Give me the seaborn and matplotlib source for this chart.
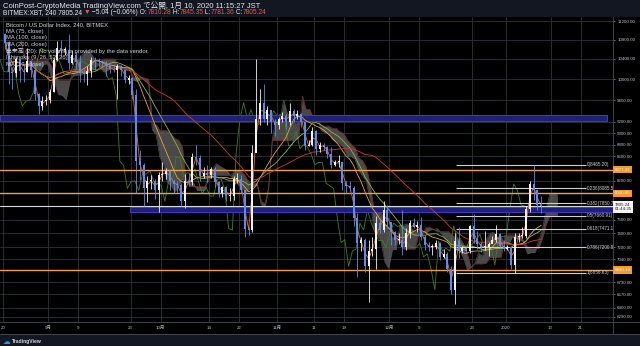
import numpy as np
import pandas as pd
import matplotlib
matplotlib.use('Agg')
import matplotlib.pyplot as plt
import matplotlib.dates as mdates
from matplotlib.patches import Rectangle
from matplotlib.lines import Line2D
from matplotlib.ticker import NullLocator
import seaborn as sns

# ---------------- data (daily OHLC) ----------------
start_date = '2019-08-20'
first_open = 10920
closes = [
    # Aug 20-31
    10760, 10130, 10120, 10400, 10150, 10140, 10360, 10180, 9720, 9490, 9580, 9600,
    # Sep
    9760, 10380, 10620, 10580, 10580, 10320, 10480, 10330, 10110, 10100,
    10150, 10380, 10360, 10350, 10310, 10250, 10200, 10180, 10260, 10170,
    9990, 10030, 9700, 8520, 8450, 8080, 8190, 8200, 8050, 8300,
    # Oct
    8310, 8360, 8200, 8150, 8130, 7880, 8200, 8180, 8590, 8580,
    8270, 8330, 8300, 8390, 8180, 8000, 8100, 7960, 7960, 8230,
    8230, 8050, 7470, 7450, 8650, 9250, 9550, 9250, 9420, 9200, 9150,
    # Nov
    9250, 9300, 9200, 9400, 9300, 9340, 9200, 8780, 8800, 9040,
    8730, 8800, 8760, 8640, 8460, 8500, 8500, 8160, 8120, 8080,
    7620, 7270, 7310, 6940, 7150, 7180, 7550, 7450, 7750, 7560,
    # Dec
    7420, 7300, 7300, 7200, 7400, 7550, 7500, 7520, 7350, 7230,
    7200, 7200, 7260, 7070, 7110, 6900, 6630, 7290, 7150, 7190,
    7150, 7510, 7320, 7250, 7200, 7200, 7250, 7310, 7390, 7220, 7180,
    # Jan 1-10
    7200, 6960, 7350, 7360, 7360, 7760, 8150, 8050, 7820, 7805.24,
]
highs = [
    10950, 10780, 10240, 10450, 10420, 10300, 10620, 10380, 10290, 9730, 9680, 9700,
    9800, 10420, 10780, 10800, 10650, 10920, 10580, 10550, 10480, 10200,
    10250, 10450, 10450, 10420, 10380, 10350, 10280, 10280, 10300, 10280,
    10170, 10090, 10040, 9800, 8700, 8490, 8280, 8300, 8230, 8340,
    8500, 8400, 8380, 8230, 8200, 8160, 8310, 8320, 8650, 8800,
    8620, 8420, 8450, 8430, 8420, 8200, 8120, 8110, 8080, 8280,
    8330, 8300, 8050, 7500, 8800, 10400, 9800, 9900, 9480, 9420, 9250,
    9280, 9380, 9350, 9550, 9430, 9420, 9360, 9220, 8880, 9100,
    9060, 8850, 8820, 8780, 8760, 8540, 8620, 8500, 8200, 8200,
    8110, 7700, 7350, 7330, 7300, 7350, 7650, 7620, 7880, 7820,
    7560, 7430, 7400, 7750, 7480, 7600, 7620, 7580, 7640, 7380,
    7280, 7250, 7300, 7280, 7180, 7140, 6940, 7400, 7500, 7220,
    7200, 7520, 7680, 7430, 7280, 7430, 7280, 7370, 7520, 7410, 7300,
    7240, 7220, 7400, 7400, 7500, 7800, 8200, 8465.20, 8050, 7960,
]
lows = [
    10600, 9900, 9800, 10050, 9950, 9950, 10130, 10050, 9600, 9350, 9420, 9500,
    9550, 9750, 10350, 10450, 10480, 10200, 10300, 10200, 9950, 9950,
    9880, 10050, 10180, 10250, 10260, 10060, 10120, 10130, 9620, 10070,
    9930, 9900, 9620, 8000, 8220, 7800, 7870, 8070, 7920, 7720,
    8200, 8230, 8050, 8000, 8020, 7800, 7780, 8120, 8130, 8450,
    8200, 8250, 8180, 8250, 8100, 7950, 7940, 7880, 7880, 7900,
    8170, 8000, 7350, 7380, 7420, 8950, 9150, 9200, 9150, 9000, 8950,
    9080, 9200, 9080, 9150, 9200, 9260, 9100, 8700, 8770, 8780,
    8620, 8680, 8700, 8570, 8400, 8440, 8430, 8060, 8000, 8040,
    7510, 6800, 7150, 6870, 6480, 7080, 6900, 7400, 7420, 7480,
    7230, 7230, 7250, 7100, 7170, 7330, 7480, 7420, 7300, 7170,
    7150, 7100, 7180, 7030, 7050, 6860, 6580, 6450, 7060, 7120,
    7120, 7130, 7270, 7180, 7140, 7160, 7080, 7270, 7280, 7200, 7150,
    7160, 6900, 6856.63, 7280, 7340, 7340, 7720, 7900, 7750, 7700,
]

# indicators (periods in 4H bars, as in the legend)
ma_periods = [13, 75, 100, 200]
ma_colors = ['#f2662b', '#e8a33a', '#8fb347', '#d23a2c']
ichimoku_periods = [9, 26, 52, 26]

# horizontal levels
orange_levels = [8377.33, 8000.00, 6890.19]
last_price = 7805.24
countdown = '01:44:35'
blue_zones = [(9210, 9315), (7715, 7790)]
fib_ratios = ['0', '0.236', '0.382', '0.5', '0.618', '0.786', '1']
fib_levels = [8465.20, 8085.58, 7850.73, 7660.91, 7471.10, 7200.86, 6856.63]

y_ticks = [11200, 10800, 10400, 10000, 9600, 9200, 9000, 8800, 8600, 8200, 8000,
           7800, 7600, 7400, 7200, 7040, 6730, 6570, 6400, 6290]
y_hidden = [8000, 7800]   # labels covered by the price boxes
x_tick_dates = ['2019-08-20', '2019-09-01', '2019-09-09', '2019-09-23', '2019-10-01',
                '2019-10-14', '2019-10-22', '2019-11-01', '2019-11-11', '2019-11-19',
                '2019-12-01', '2019-12-09', '2019-12-23', '2020-01-01', '2020-01-13',
                '2020-01-21']
x_tick_labels = ['20', '9月', '9', '23', '10月', '14', '22', '11月', '11', '19',
                 '12月', '9', '23', '2020', '13', '21']

legend_lines = ['Bitcoin / US Dollar Index, 240, BITMEX', 'MA (75, close)',
                'MA (100, close)', 'MA (200, close)',
                '出来高 (20): No volume is provided by the data vendor.',
                'Ichimoku (9, 26, 52, 26)', 'MA (13, close)']

# ---------------- figure ----------------
sns.set_theme(style='dark')
plt.rcParams['font.family'] = ['Liberation Sans', 'Noto Sans CJK JP', 'DejaVu Sans']
plt.rcParams['axes.unicode_minus'] = False

W, H = 640, 346
fig = plt.figure(figsize=(6.4, 3.46), dpi=100, facecolor='#131722')
def fx(x): return x / W
def fy(y): return 1 - y / H

fig.patches.append(Rectangle((0, fy(334)), 1, (334 - 17) / H, transform=fig.transFigure,
                             facecolor='black', edgecolor='none', zorder=-5))

ax = fig.add_axes([0, fy(322), 613 / W, (322 - 17) / H])
ax.set_zorder(2)
ax.set_facecolor('black')

n = len(closes)
dates = pd.date_range(start_date, periods=n, freq='D')
centers = dates + pd.Timedelta(hours=12)
xc = mdates.date2num(centers.to_pydatetime())
c = np.array(closes, float)
h = np.array(highs, float)
l = np.array(lows, float)
o = np.concatenate([[first_open], c[:-1]])

df = pd.DataFrame({'t': centers, 'close': c, 'high': h, 'low': l})

# Ichimoku (4H bars -> days)
bars_per_day = 6
def win(p):
    return max(1, int(round(p / bars_per_day)))
tk, kj, sb, disp = ichimoku_periods
hs, ls = df['high'], df['low']
tenkan = (hs.rolling(win(tk), min_periods=1).max() + ls.rolling(win(tk), min_periods=1).min()) / 2
kijun = (hs.rolling(win(kj), min_periods=1).max() + ls.rolling(win(kj), min_periods=1).min()) / 2
spanA = (tenkan + kijun) / 2
spanB = (hs.rolling(win(sb), min_periods=1).max() + ls.rolling(win(sb), min_periods=1).min()) / 2
shift = pd.Timedelta(hours=4 * disp)
cloud_t = centers + shift
ax.fill_between(cloud_t, spanA, spanB, color='#5c5c5c', alpha=0.8, lw=0, zorder=2)
sns.lineplot(x=cloud_t, y=spanB.values, ax=ax, color='#6e2626', lw=0.6, zorder=2)
sns.lineplot(x=cloud_t, y=spanA.values, ax=ax, color='#4e4e4e', lw=0.5, zorder=2)
# lagging span
sns.lineplot(x=centers - shift, y=c, ax=ax, color='#3f7f22', lw=0.6, zorder=3)

# moving averages
for p, col in zip(ma_periods, ma_colors):
    ma = df['close'].rolling(win(p), min_periods=1).mean()
    sns.lineplot(x=centers, y=ma.values, ax=ax, color=col, lw=0.6, zorder=4)

# horizontal zones / levels
for lo_, hi_ in blue_zones[:1]:
    ax.axhspan(lo_, hi_, xmin=0, xmax=607 / 613, facecolor='#20207a',
               edgecolor='#3a3ab8', lw=0.8, zorder=3)
for lo_, hi_ in blue_zones[1:]:
    ax.axhspan(lo_, hi_, xmin=130 / 613, xmax=1, facecolor='#20207a',
               edgecolor='#3a3ab8', lw=0.8, zorder=3)
for lv in orange_levels:
    ax.axhline(lv, color='#f0a04b', lw=1.0, zorder=3)
ax.axhline(last_price, color='#d8d8d8', lw=0.8, zorder=3)

# candles
up = c >= o
cols = np.where(up, '#f2f2f2', '#5b8def')
ax.vlines(xc, l, h, colors=cols, lw=0.6, zorder=6)
body_lo = np.minimum(o, c)
body_h = np.maximum(np.abs(c - o), body_lo * 0.002)
ax.bar(xc, body_h, bottom=body_lo, width=0.55, color=cols, lw=0, zorder=7)

# fibonacci
fib_t0 = mdates.date2num(pd.Timestamp('2019-12-18 17:00').to_pydatetime())
fib_t1 = mdates.date2num(pd.Timestamp('2020-01-22 08:00').to_pydatetime())
for r, lv in zip(fib_ratios, fib_levels):
    ax.hlines(lv, fib_t0, fib_t1, color='#cfcfcf', lw=0.8, zorder=5)
    ax.text(fib_t1 + 0.4, lv, f'{r}({lv:.2f})', color='#d0d0d0', fontsize=3.3,
            va='center', ha='left', zorder=8, clip_on=True)

# axes formatting
ax.set_yscale('log')
ax.set_ylim(6226, 11288)
ax.yaxis.tick_right()
ax.yaxis.set_minor_locator(NullLocator())
ax.set_yticks(y_ticks)
ax.set_yticklabels(['' if t in y_hidden else f'{t:.2f}' for t in y_ticks])
ax.set_xlim(mdates.date2num(pd.Timestamp('2019-08-19 04:48').to_pydatetime()),
            mdates.date2num(pd.Timestamp('2020-01-29 16:00').to_pydatetime()))
ax.set_xticks(mdates.date2num(pd.to_datetime(x_tick_dates).to_pydatetime()))
ax.set_xticklabels(x_tick_labels)
ax.tick_params(axis='both', labelsize=3.2, colors='#b8bcc6', length=1.5, width=0.4, pad=1.5)
ax.grid(True, color='#30333b', lw=0.6, zorder=0)
ax.set_axisbelow(True)
ax.set_xlabel('')
ax.set_ylabel('')
for s in ax.spines.values():
    s.set_visible(False)

# frame lines
for (x0, y0, x1, y1) in [(613, 17, 613, 334), (0, 322, 640, 322), (0, 334, 640, 334)]:
    fig.add_artist(Line2D([fx(x0), fx(x1)], [fy(y0), fy(y1)], color='#4a4d55', lw=0.6,
                          transform=fig.transFigure, zorder=3))

# right-axis boxes
for lv in orange_levels:
    ypix = ax.transData.transform((0, lv))[1]
    fig.text(fx(614.5), ypix / fig.bbox.height, f'{lv:.2f}', fontsize=3.2, color='#fff5e0',
             va='center', ha='left', zorder=10,
             bbox=dict(boxstyle='square,pad=0.35', fc='#f29b30', ec='none'))
fig.text(fx(614.5), fy(207), f'{last_price:.2f}\n{countdown}', fontsize=3.2, color='#222222',
         va='center', ha='left', linespacing=1.3, zorder=10,
         bbox=dict(boxstyle='square,pad=0.35', fc='#f4f4f4', ec='none'))

# legend text
for i, s in enumerate(legend_lines):
    fig.text(fx(6), fy(24.5 + i * 6.67), s, fontsize=4.2, color='#d1d4dc', va='center',
             ha='left', zorder=10)

# header
fig.text(fx(3), fy(6), 'CoinPost-CryptoMedia TradingView.com で公開, 1月 10, 2020 11:15:27 JST',
         fontsize=5.5, color='#e8e8e8', va='center', ha='left')
red = '#ef5350'
white = '#e8e8e8'
parts = [('BITMEX:XBT, 240 7805.24 ', white), ('▼', red),
         (' −5.04 (−0.06%) O:', white), ('7810.28', red), (' H:', white),
         ('7845.35', red), (' L:', white), ('7781.36', red),
         (' C:', white), ('7805.24', red)]
renderer = fig.canvas.get_renderer()
xcur = 3.0
for s, col in parts:
    t = fig.text(fx(xcur), fy(12.7), s, fontsize=4.75, color=col, va='center', ha='left',
                 family=['Liberation Sans', 'DejaVu Sans'])
    bb = t.get_window_extent(renderer=renderer)
    xcur += bb.width

# footer logo
fig.text(fx(3), fy(341), '☁', fontsize=5.5, color='#2196f3', va='center', ha='left',
         family=['DejaVu Sans'])
fig.text(fx(12), fy(341), 'TradingView', fontsize=3.6, color='#d8d8d8', va='center',
         ha='left', fontweight='bold')

fig.savefig('out.png', dpi=100, facecolor=fig.get_facecolor())
